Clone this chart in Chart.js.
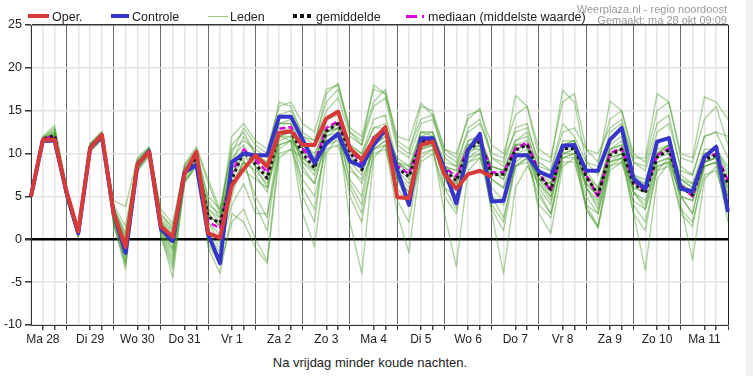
<!DOCTYPE html>
<html>
<head>
<meta charset="utf-8">
<script src="https://cdn.jsdelivr.net/npm/chart.js@4/dist/chart.umd.min.js"></script>
<style>
  body { margin: 0; background: #fff; font-family: "Liberation Sans", Arial, sans-serif; }
  #wrap { position: relative; width: 753px; height: 376px; overflow: hidden; }
  #grafiek { position: absolute; left: 0; top: 0; }
  .sw { position: absolute; }
  .lt { position: absolute; top: 10px; font-size: 12.5px; line-height: 14px; color: #222; white-space: nowrap; }
  .grey { position: absolute; right: 26px; font-size: 11px; line-height: 12px; color: #9a9a9a; white-space: nowrap; }
  #caption { position: absolute; left: 0; top: 355px; width: 740px; text-align: center; font-size: 13px; color: #222; }
  #strip { position: absolute; left: 746px; top: 0; width: 7px; height: 376px; background: #f1f1f1; }
</style>
</head>
<body>
<div id="wrap">
  <canvas id="grafiek" width="745" height="350"></canvas>

  <div class="sw" style="left:28px;top:14px;width:21px;height:4px;background:#d83a3a"></div>
  <div class="lt" style="left:52px">Oper.</div>
  <div class="sw" style="left:111px;top:14px;width:18px;height:4px;background:#3535c9"></div>
  <div class="lt" style="left:132px">Controle</div>
  <div class="sw" style="left:208px;top:16px;width:20px;height:1px;background:#96cf82"></div>
  <div class="lt" style="left:230px">Leden</div>
  <div class="sw" style="left:293px;top:14px;width:19px;height:4px;background:repeating-linear-gradient(90deg,#111 0 4px,transparent 4px 7px)"></div>
  <div class="lt" style="left:316px">gemiddelde</div>
  <div class="sw" style="left:406px;top:15px;width:11px;height:3px;background:#e100e1"></div>
  <div class="sw" style="left:422px;top:15px;width:2px;height:3px;background:#e100e1"></div>
  <div class="lt" style="left:428px">mediaan (middelste waarde)</div>

  <div class="grey" style="top:3px">Weerplaza.nl - regio noordoost</div>
  <div class="grey" style="top:14px">Gemaakt: ma 28 okt 09:09</div>

  <div id="caption">Na vrijdag minder koude nachten.</div>
  <div id="strip"></div>
</div>
<script>
// 6-uurlijkse stappen, ma 28 06u t/m di 12 00u
const dayLabels = ['Ma 28', 'Di 29', 'Wo 30', 'Do 31', 'Vr 1', 'Za 2', 'Zo 3', 'Ma 4',
  'Di 5', 'Wo 6', 'Do 7', 'Vr 8', 'Za 9', 'Zo 10', 'Ma 11'];

const oper = [5.0, 11.6, 11.6, 5.6, 0.9, 10.6, 12.2, 3.0, -0.9, 8.7, 10.2, 1.5, 0.3, 7.7, 10.2, 0.7, 0.2,
  6.3, 8.2, 9.8, 8.5, 12.4, 12.6, 11.0, 11.0, 14.1, 14.9, 10.6, 9.3, 11.6, 13.1, 4.9, 4.8, 11.0, 11.4,
  7.6, 5.9, 7.6, 8.0, 7.3, null, null, null, null, null, null, null, null, null, null, null, null,
  null, null, null, null, null, null, null, null];

const controle = [5.0, 11.5, 11.5, 5.5, 0.7, 10.6, 12.0, 3.0, -1.6, 8.6, 10.3, 1.2, -0.2, 7.8, 8.7, 0.6, -2.8,
  9.0, 10.0, 9.8, 9.8, 14.3, 14.3, 11.6, 8.9, 11.2, 12.3, 9.1, 8.5, 11.0, 12.8, 8.1, 4.0, 11.8, 11.8,
  8.1, 4.2, 10.4, 12.3, 4.4, 4.5, 9.8, 9.8, 7.9, 7.3, 10.9, 11.0, 8.0, 8.0, 11.6, 13.0, 7.1, 5.9, 11.4, 11.8,
  5.9, 5.6, 9.6, 10.8, 3.2];

const gemiddelde = [5.0, 11.7, 12.1, 5.3, 0.6, 10.8, 12.2, 3.0, -1.0, 8.8, 10.3, 1.3, -0.4, 7.8, 9.5, 2.6, 1.9,
  7.0, 10.2, 8.8, 7.1, 12.4, 12.6, 10.0, 8.3, 12.6, 13.5, 10.2, 8.1, 11.6, 12.5, 8.3, 7.3, 11.4, 11.4,
  8.1, 6.8, 10.4, 11.4, 7.5, 7.6, 10.4, 11.0, 7.5, 5.8, 10.6, 10.6, 7.3, 5.2, 9.8, 10.5, 6.5, 5.4, 9.6, 10.4,
  6.1, 5.2, 9.3, 9.8, 6.5];

const mediaan = [5.0, 11.7, 12.1, 5.4, 0.7, 10.8, 12.2, 3.0, -0.9, 8.8, 10.3, 1.4, -0.2, 7.9, 9.6, 2.0, 1.3,
  7.8, 10.5, 9.3, 7.8, 12.9, 13.1, 10.6, 8.8, 13.0, 13.8, 10.5, 8.8, 11.9, 12.7, 8.6, 7.6, 11.6, 11.6,
  8.4, 7.3, 10.7, 11.6, 7.8, 7.8, 10.6, 11.3, 7.8, 5.6, 10.8, 10.9, 7.5, 4.9, 10.1, 10.6, 6.8, 5.6, 9.8, 10.6,
  6.3, 5.0, 9.5, 10.0, 6.8];

const leden = [
  [5.0, 11.8, 12.6, 5.8, 1.0, 11.0, 12.4, 3.5, 0.0, 9.0, 10.5, 2.5, 1.0, 8.2, 10.0, 5.0, 3.5, 10.5, 11.5, 10.5, 9.5, 14.5, 15.0, 12.5, 11.5, 16.0, 17.5, 12.5, 11.0, 15.5, 16.5, 10.5, 9.5, 13.5, 14.0, 10.0, 9.0, 12.5, 13.5, 10.0, 9.5, 12.5, 13.0, 9.0, 8.0, 13.5, 12.0, 9.0, 7.5, 12.5, 13.5, 9.0, 8.0, 12.5, 13.5, 8.5, 7.5, 12.0, 12.5, 9.5],
  [5.0, 11.4, 11.6, 4.8, 0.4, 10.4, 11.8, 2.0, -2.5, 8.2, 10.0, 0.8, -2.5, 7.0, 8.8, 0.5, -1.5, 6.0, 9.0, 5.0, 2.5, 12.0, 12.5, 6.0, 3.5, 11.5, 12.0, 5.0, 2.0, 10.5, 11.5, 4.5, 2.0, 10.0, 10.5, 5.0, 3.0, 9.5, 10.0, 3.5, 1.0, 8.5, 9.5, 4.0, 2.5, 9.5, 9.5, 3.5, 1.5, 9.0, 9.5, 3.0, 1.0, 8.5, 9.0, 3.0, 1.5, 8.5, 9.0, 4.0],
  [4.9, 11.5, 11.8, 5.0, 0.5, 10.5, 12.0, 2.5, -1.8, 8.5, 10.2, 1.0, -1.5, 7.5, 9.0, -0.5, -3.0, 2.0, 3.5, 0.0, -2.5, 10.5, 11.5, 5.0, 2.0, 12.5, 13.0, 6.5, 4.0, 11.5, 12.5, 7.0, 5.5, 11.0, 11.0, 7.5, 6.0, 10.5, 11.0, 6.0, 4.5, 10.0, 10.5, 7.0, 5.5, 11.0, 11.5, 6.0, 4.0, 9.5, 10.0, 5.5, 3.5, 9.0, 9.5, 5.0, 4.5, 8.5, 9.0, 6.0],
  [5.0, 11.6, 12.2, 5.4, 0.8, 10.8, 12.2, 3.2, -0.5, 8.8, 10.4, 1.8, 0.0, 8.0, 9.5, 3.0, 1.5, 8.0, 10.5, 9.0, 7.5, 12.5, 12.5, 10.5, 9.0, 13.0, 13.5, 10.0, 8.0, 11.5, 12.5, 8.5, 7.0, 11.5, 11.5, 8.0, 7.0, 10.5, 11.5, 7.5, 7.5, 10.5, 11.0, 7.5, 6.0, 10.5, 10.5, 7.5, 5.5, 10.0, 10.5, 6.5, 5.5, 9.5, 10.5, 6.0, 5.0, 9.5, 10.0, 6.5],
  [5.1, 11.7, 12.4, 5.5, 0.9, 10.9, 12.3, 3.8, 0.5, 9.0, 10.5, 2.0, 0.5, 8.0, 9.8, 2.0, -0.5, 5.0, 9.5, 4.0, 1.0, 11.0, 11.5, 3.0, -0.9, 10.0, 12.0, 7.0, 5.0, 12.0, 13.0, 9.0, 8.0, 12.5, 12.0, 7.0, 5.0, 9.0, 10.0, 4.0, 2.0, 9.0, 10.0, 6.0, 4.0, 11.0, 11.5, 8.0, 6.0, 10.5, 11.0, 4.0, 2.0, 8.0, 9.5, 5.0, 3.0, 9.0, 9.5, 5.0],
  [5.0, 12.0, 13.3, 6.2, 1.2, 11.2, 12.6, 4.0, 1.5, 9.3, 10.7, 3.0, 1.2, 8.6, 10.5, 6.5, 3.0, 12.0, 13.5, 11.5, 10.5, 15.5, 16.0, 13.5, 12.5, 17.5, 18.0, 13.0, 12.0, 17.5, 17.0, 11.0, 10.0, 15.5, 15.0, 10.5, 9.5, 14.5, 15.0, 11.0, 10.0, 14.5, 15.5, 10.5, 9.5, 16.0, 17.0, 10.5, 9.0, 14.0, 15.0, 10.0, 9.0, 15.0, 16.0, 9.5, 9.0, 14.0, 15.5, 11.0],
  [5.0, 11.6, 12.0, 5.2, 0.6, 10.6, 12.0, 2.8, -1.2, 8.6, 10.2, 1.2, -1.0, 7.6, 9.2, 2.5, 2.0, 9.5, 11.0, 8.5, 6.0, 12.0, 12.5, 8.5, 6.5, 12.0, 13.0, 2.0, -4.0, 9.5, 11.0, 7.0, 5.5, 11.5, 12.0, 6.0, 3.5, 10.0, 11.0, 3.0, -4.0, 6.0, 8.5, 6.5, 4.5, 10.0, 10.5, 7.0, 5.5, 11.0, 12.0, 5.5, 4.0, 10.0, 11.0, 5.0, 3.0, 9.0, 9.5, 7.0],
  [5.0, 11.5, 11.9, 5.1, 0.6, 10.6, 12.1, 3.0, -1.0, 8.7, 10.3, 1.6, -0.2, 7.9, 9.6, 4.0, 3.0, 7.5, 10.0, 9.5, 8.5, 13.5, 13.5, 11.0, 10.0, 13.0, 13.5, 10.5, 9.5, 13.0, 13.0, 7.0, 4.0, 10.5, 11.0, 3.0, -3.2, 8.0, 9.5, 8.0, 7.0, 11.0, 11.5, 5.5, 3.0, 9.5, 10.0, 4.0, 1.5, 8.5, 9.5, 7.0, 6.5, 10.5, 11.0, 6.5, 5.5, 10.0, 10.5, 8.0],
  [4.9, 11.4, 11.7, 5.0, 0.5, 10.5, 11.9, 2.4, -2.0, 8.4, 10.1, 1.0, -2.0, 7.4, 9.0, 1.0, 0.0, 6.5, 9.0, 8.0, 6.5, 11.5, 12.0, 9.5, 8.0, 12.0, 12.5, 8.5, 6.5, 10.5, 11.0, 3.0, -1.6, 9.5, 10.5, 8.5, 8.0, 11.0, 11.5, 8.5, 8.0, 11.0, 11.0, 7.0, 6.5, 10.0, 10.5, 6.5, 5.0, 10.0, 10.5, 3.0, -3.6, 7.0, 9.0, 7.0, 6.0, 9.5, 10.0, 5.5],
  [5.0, 11.5, 11.8, 4.9, 0.4, 10.5, 11.9, 2.2, -3.0, 8.3, 10.0, 0.5, -4.5, 6.8, 8.8, -1.0, -4.0, 3.0, 2.0, -1.0, -2.8, 9.5, 10.5, 9.5, 8.5, 14.0, 14.5, 11.0, 10.0, 14.0, 14.5, 9.0, 8.5, 12.5, 12.5, 9.0, 8.5, 11.5, 12.0, 8.0, 7.0, 10.5, 11.0, 7.0, 5.0, 10.0, 10.0, 5.0, 3.0, 9.5, 10.0, 7.5, 7.0, 10.0, 10.5, 4.0, -2.4, 7.0, 8.5, 3.0],
  [5.1, 11.9, 13.0, 6.0, 1.0, 11.1, 12.5, 3.5, 0.8, 9.2, 10.6, 2.8, 1.5, 8.5, 10.3, 4.5, 2.5, 11.0, 12.5, 10.0, 9.0, 13.5, 14.0, 12.0, 11.0, 17.0, 18.2, 12.5, 11.5, 16.0, 17.5, 11.5, 10.5, 14.0, 14.5, 10.5, 10.0, 14.0, 15.3, 9.5, 8.5, 13.0, 13.5, 8.5, 8.0, 12.5, 13.0, 10.5, 10.0, 13.0, 14.0, 9.0, 8.5, 13.5, 14.5, 8.0, 7.5, 12.0, 12.5, 12.0],
  [5.0, 11.6, 12.1, 5.3, 0.7, 10.7, 12.1, 3.0, -0.8, 8.7, 10.3, 1.5, -0.5, 7.8, 9.4, 3.5, 2.0, 9.0, 10.5, 9.5, 9.0, 12.0, 11.5, 10.0, 9.5, 12.5, 13.0, 9.0, 8.5, 11.0, 12.0, 9.5, 8.5, 11.0, 11.5, 8.5, 7.5, 10.5, 10.5, 5.0, 2.5, 8.5, 9.5, 7.0, 6.5, 10.5, 11.0, 6.0, 3.5, 9.0, 10.0, 6.0, 5.5, 10.0, 11.0, 7.5, 6.5, 10.5, 10.5, 7.5],
  [5.0, 11.5, 11.9, 5.2, 0.6, 10.6, 12.0, 2.7, -1.5, 8.5, 10.2, 1.3, -1.2, 7.6, 9.3, 2.0, 0.5, 7.0, 10.0, 8.5, 7.0, 12.5, 13.0, 9.0, 7.5, 11.0, 11.5, 9.0, 7.5, 12.0, 13.0, 8.0, 6.5, 10.5, 11.5, 7.5, 6.5, 10.5, 11.5, 7.0, 6.0, 11.0, 11.0, 3.0, 0.7, 8.5, 9.5, 6.5, 5.0, 10.5, 11.5, 7.0, 5.5, 9.0, 9.5, 7.0, 6.5, 9.0, 9.5, 6.0],
  [5.0, 11.7, 12.3, 5.6, 0.8, 10.8, 12.2, 3.3, -0.3, 8.9, 10.4, 2.0, 0.2, 8.1, 9.7, 3.0, 1.5, 8.5, 10.0, 7.5, 5.5, 12.0, 12.0, 9.0, 8.0, 12.5, 13.5, 9.5, 8.5, 11.0, 12.0, 9.0, 7.5, 12.0, 12.5, 8.5, 8.0, 11.0, 11.5, 8.5, 8.0, 11.5, 12.0, 8.0, 7.0, 11.0, 11.0, 3.5, 1.3, 8.0, 9.0, 6.0, 5.5, 9.5, 10.0, 6.5, 5.5, 9.0, 9.5, 5.0],
  [5.1, 11.8, 12.8, 5.9, 1.1, 11.0, 12.4, 4.5, 3.8, 9.5, 10.8, 3.5, 1.8, 8.8, 10.8, 7.0, 3.5, 10.0, 13.0, 11.0, 10.0, 16.0, 15.5, 12.0, 11.5, 15.0, 16.5, 12.0, 11.0, 18.0, 17.0, 12.0, 11.5, 15.9, 14.5, 9.5, 8.5, 13.0, 14.0, 9.5, 9.0, 16.8, 15.5, 9.5, 9.0, 17.4, 16.0, 9.0, 8.5, 16.1, 15.0, 9.5, 9.5, 17.0, 16.0, 10.0, 9.5, 16.6, 16.0, 14.0],
  [4.9, 11.4, 11.6, 4.8, 0.3, 10.3, 11.7, 1.8, -3.5, 8.0, 9.8, 0.3, -3.5, 6.6, 8.6, 0.0, -2.0, 6.0, 8.0, 7.0, 6.0, 11.0, 11.5, 8.0, 6.5, 11.5, 12.0, 8.0, 7.0, 10.5, 11.5, 7.5, 6.0, 10.5, 11.0, 7.0, 6.5, 9.5, 10.5, 7.0, 6.0, 9.5, 10.0, 6.5, 5.0, 9.5, 10.0, 6.0, 4.5, 9.0, 9.5, 5.5, 4.5, 8.5, 9.0, 5.0, 4.5, 8.5, 9.0, 2.0],
  [5.0, 11.7, 12.5, 5.7, 0.9, 10.9, 12.3, 3.4, 0.2, 9.0, 10.5, 2.2, 0.8, 8.2, 9.9, 3.5, 2.5, 9.0, 12.0, 10.0, 8.0, 13.5, 13.5, 10.5, 9.5, 14.0, 15.0, 11.0, 10.0, 13.0, 13.5, 9.0, 8.0, 12.5, 12.5, 8.5, 7.0, 11.5, 12.0, 8.5, 8.0, 11.5, 12.5, 8.0, 6.5, 11.5, 11.5, 7.5, 6.0, 10.5, 11.0, 7.5, 6.5, 10.0, 11.0, 7.0, 6.0, 10.0, 10.5, 8.5],
  [4.9, 11.3, 11.5, 4.7, 0.2, 10.2, 11.6, 1.6, -2.8, 7.9, 9.7, 0.6, -3.0, 6.6, 8.5, 1.0, -1.0, 4.0, 6.5, 3.0, 3.0, 10.0, 10.5, 7.0, 5.0, 10.5, 11.0, 6.0, 3.0, 10.0, 10.5, 6.0, 4.0, 9.0, 10.0, 6.0, 5.0, 9.0, 9.5, 5.0, 4.0, 8.5, 9.0, 5.0, 3.0, 9.0, 9.0, 4.0, 3.0, 8.5, 9.0, 4.5, 3.5, 8.0, 8.5, 3.5, 2.0, 7.5, 8.0, 3.5]
];

const labels = controle.map((v, i) => i);

const datasets = [
  { label: 'Oper.', data: oper, borderColor: '#d83a3a', borderWidth: 4 },
  { label: 'Controle', data: controle, borderColor: '#3535c9', borderWidth: 4 },
  { label: 'gemiddelde', data: gemiddelde, borderColor: '#151515', borderWidth: 3, borderDash: [3, 3] },
  { label: 'mediaan', data: mediaan, borderColor: '#e100e1', borderWidth: 2.5, borderDash: [6, 3] }
];
leden.forEach(reeks => {
  datasets.push({ label: 'Leden', data: reeks, borderColor: 'rgba(62, 150, 30, 0.42)', borderWidth: 1.4 });
});

new Chart(document.getElementById('grafiek'), {
  type: 'line',
  data: { labels: labels, datasets: datasets },
  options: {
    responsive: false,
    animation: false,
    layout: { padding: { left: 0, right: 17, top: 25, bottom: 0 } },
    elements: { point: { radius: 0 }, line: { tension: 0, borderJoinStyle: 'round' } },
    plugins: { legend: { display: false }, tooltip: { enabled: false } },
    scales: {
      x: {
        type: 'category',
        offset: false,
        border: { color: '#333', width: 1 },
        grid: {
          color: ctx => ctx.index === 59 ? '#222' : (ctx.index % 4 === 3 ? '#6a6a6a' : '#e3e3e3'),
          lineWidth: ctx => ctx.index % 4 === 3 ? 1 : 1.5,
          tickLength: 5,
          tickColor: ctx => ctx.index % 4 === 0 ? 'rgba(0,0,0,0)' : '#444'
        },
        ticks: {
          autoSkip: false,
          maxRotation: 0,
          padding: 2,
          color: '#222',
          font: { family: '"Liberation Sans", Arial, sans-serif', size: 12 },
          callback: (v, i) => i % 4 === 1 ? dayLabels[(i - 1) / 4] : ''
        },
        afterFit: s => { s.height = 25; }
      },
      y: {
        min: -10,
        max: 25,
        border: { color: '#333', width: 1 },
        grid: {
          color: ctx => ctx.tick.value === 0 ? '#000' : (ctx.tick.value === 25 ? '#333' : '#e3e3e3'),
          lineWidth: ctx => ctx.tick.value === 0 ? 2.5 : 1.5,
          tickLength: 6,
          tickColor: '#333'
        },
        ticks: {
          stepSize: 5,
          padding: 3,
          color: '#222',
          font: { family: '"Liberation Sans", Arial, sans-serif', size: 12.5 }
        },
        afterFit: s => { s.width = 31; }
      }
    }
  }
});
</script>
</body>
</html>
